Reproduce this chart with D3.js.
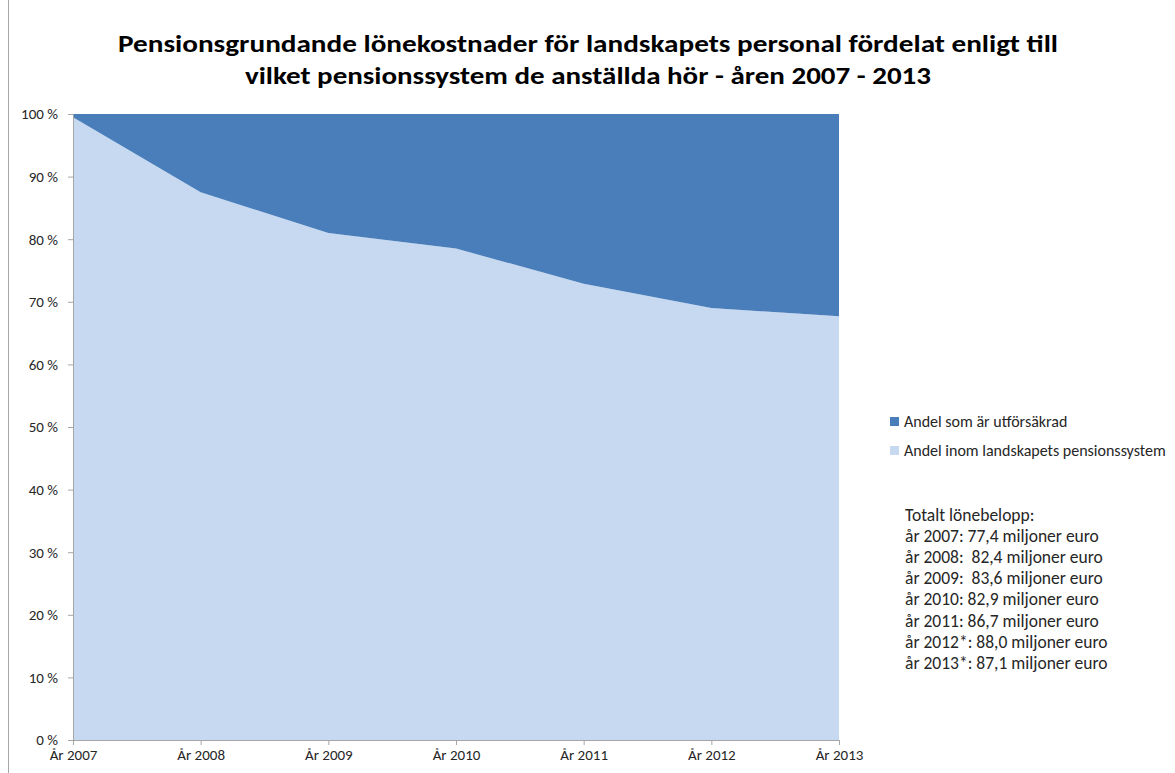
<!DOCTYPE html>
<html><head><meta charset="utf-8">
<script src="https://cdn.jsdelivr.net/npm/d3@7"></script>
<style>
body{margin:0;background:#fff;}
text{font-family:Carlito,Calibri,"Open Sans",sans-serif;fill:#262626;}
</style></head>
<body><svg id="c" width="1175" height="773"></svg>
<script>
const titleLines = ["Pensionsgrundande lönekostnader för landskapets personal fördelat enligt till","vilket pensionssystem de anställda hör - åren 2007 - 2013"];
const years = ["År 2007","År 2008","År 2009","År 2010","År 2011","År 2012","År 2013"];
const inomSystem = [99.5, 87.5, 81.0, 78.5, 72.9, 69.0, 67.7];
const utforsakrad = [0.5, 12.5, 19.0, 21.5, 27.1, 31.0, 32.3];
const seriesNames = ["Andel som är utförsäkrad","Andel inom landskapets pensionssystem"];
const seriesColors = ["#4A7EBB","#C6D9F1"];
const yTicks = [0,10,20,30,40,50,60,70,80,90,100];
const totalLines = ["Totalt lönebelopp:","år 2007: 77,4 miljoner euro","år 2008:  82,4 miljoner euro","år 2009:  83,6 miljoner euro","år 2010: 82,9 miljoner euro","år 2011: 86,7 miljoner euro","år 2012*: 88,0 miljoner euro","år 2013*: 87,1 miljoner euro"];

const svg = d3.select("#c");
const W=1175,H=773;
svg.append("line").attr("x1",8.5).attr("x2",8.5).attr("y1",0).attr("y2",H).attr("stroke","#a6a6a6").attr("stroke-width",1);

const x0=73,x1=839,yTop=114,yBot=740;
const x = d3.scalePoint().domain(years).range([x0,x1]);
const y = d3.scaleLinear().domain([0,100]).range([yBot,yTop]);

const table = years.map((yr,i)=>({year:yr,inom:inomSystem[i],utf:utforsakrad[i]}));
const stack = d3.stack().keys(["inom","utf"])(table);
const area = d3.area().x(d=>x(d.data.year)).y0(d=>y(d[0])).y1(d=>y(d[1]));
svg.append("g").selectAll("path").data(stack).join("path")
  .attr("d",area).attr("fill",(d,i)=>i===0?seriesColors[1]:seriesColors[0]);

// y axis
const yAxis = d3.axisLeft(y).tickValues(yTicks).tickSize(5).tickFormat(d=>d+" %");
const gy = svg.append("g").attr("transform",`translate(${x0},0)`).call(yAxis);
gy.select(".domain").attr("stroke","#a6a6a6");
gy.selectAll(".tick line").attr("stroke","#a6a6a6");
gy.selectAll(".tick text").attr("x",-15).style("font-size","15px").style("font-family","Carlito,Calibri,'Open Sans',sans-serif").style("fill","#262626");

const xAxis = d3.axisBottom(x).tickSize(5).tickSizeOuter(0);
const gx = svg.append("g").attr("transform",`translate(0,${yBot})`).call(xAxis);
gx.select(".domain").attr("stroke","#a6a6a6");
gx.selectAll(".tick line").attr("stroke","#a6a6a6");
gx.selectAll(".tick text").attr("y",9).style("font-size","15px").style("font-family","Carlito,Calibri,'Open Sans',sans-serif").style("fill","#262626");

// title
svg.append("g").selectAll("text").data(titleLines).join("text")
  .attr("x",588).attr("y",(d,i)=>52+i*32).attr("text-anchor","middle")
  .style("font-size","24px").style("font-weight","bold").style("fill","#000")
  .attr("textLength",(d,i)=>i===0?940:686).attr("lengthAdjust","spacingAndGlyphs")
  .text(d=>d);

// legend
const lg = svg.append("g");
seriesNames.forEach((n,i)=>{
  lg.append("rect").attr("x",890).attr("y",417+i*29).attr("width",9).attr("height",9).attr("fill",seriesColors[i]);
  lg.append("text").attr("x",904).attr("y",427+i*29).style("font-size","16px").text(n);
});

svg.append("g").selectAll("text").data(totalLines).join("text")
  .attr("x",905).attr("y",(d,i)=>521+i*21.1).style("font-size","17.5px").attr("xml:space","preserve").style("white-space","pre").text(d=>d);
</script></body></html>
